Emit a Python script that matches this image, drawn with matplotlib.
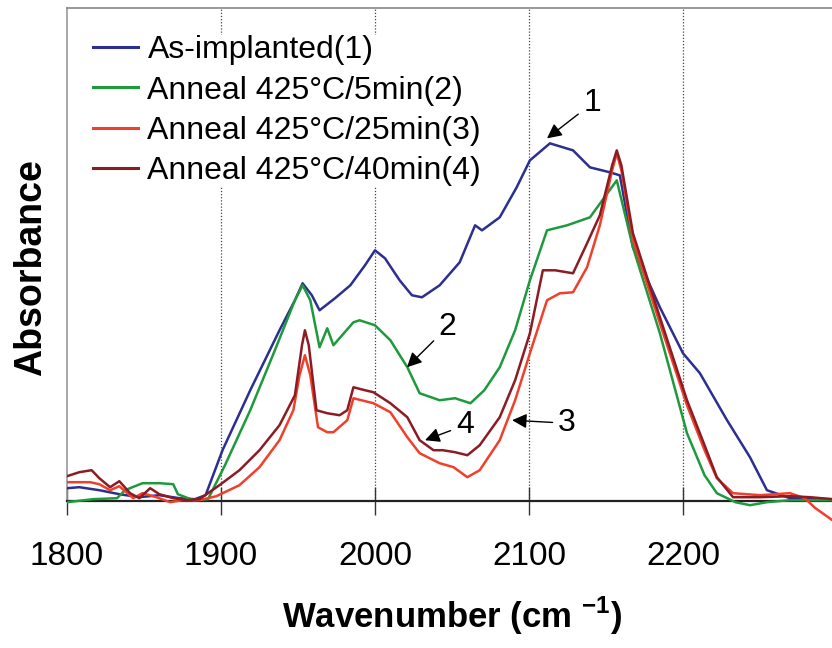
import matplotlib
matplotlib.use("Agg")
import matplotlib.pyplot as plt

plt.rcParams['font.family'] = ['Liberation Sans', 'DejaVu Sans']
plt.rcParams['mathtext.fontset'] = 'custom'
plt.rcParams['mathtext.rm'] = 'Liberation Sans'
plt.rcParams['mathtext.bf'] = 'Liberation Sans:bold'

# ---------------- data ----------------
blue_x = [1800, 1808, 1821, 1834, 1847, 1860, 1873, 1883, 1890, 1901, 1919, 1938, 1948, 1953,
          1959, 1964, 1974, 1984, 1993.5, 2000, 2006.5, 2016, 2024, 2030.5, 2042, 2055, 2065,
          2069.5, 2081, 2092, 2100.6, 2113.6, 2128.6, 2139.6, 2152.6, 2159, 2167.5, 2185, 2200,
          2211, 2228.6, 2243.5, 2254.5, 2269.5, 2297]
blue_y = [0.13, 0.14, 0.11, 0.07, 0.04, 0.06, 0.03, 0.02, 0.06, 0.51, 1.11, 1.71, 2.01, 2.18,
          2.06, 1.91, 2.03, 2.16, 2.36, 2.51, 2.43, 2.21, 2.06, 2.04, 2.16, 2.39, 2.76,
          2.71, 2.84, 3.14, 3.41, 3.58, 3.51, 3.34, 3.29, 3.26, 2.54, 1.94, 1.48,
          1.28, 0.81, 0.44, 0.11, 0.03, 0.02]

green_x = [1800, 1817, 1832.5, 1837.7, 1849, 1860, 1869, 1872, 1882, 1891.6, 1902.6, 1919, 1935,
           1948, 1953, 1958, 1964, 1969, 1973, 1986, 1990, 2000, 2010, 2021, 2029, 2042, 2052,
           2062, 2071, 2081, 2091, 2100.6, 2111.7, 2124.7, 2139.6, 2157, 2167.5, 2185, 2202.6,
           2214, 2222, 2234, 2243.5, 2254.5, 2269.5, 2297]
green_y = [-0.01, 0.02, 0.03, 0.11, 0.18, 0.18, 0.17, 0.07, 0.01, 0.02, 0.36, 0.91, 1.51,
           2.01, 2.16, 2.01, 1.54, 1.73, 1.56, 1.79, 1.81, 1.76, 1.61, 1.34, 1.08, 1.01, 1.03,
           0.98, 1.11, 1.34, 1.71, 2.21, 2.71, 2.76, 2.84, 3.21, 2.54, 1.68, 0.68,
           0.26, 0.08, -0.01, -0.04, -0.01, 0.01, 0.01]

red_x = [1800, 1808, 1815, 1821, 1828, 1834, 1843, 1849, 1858, 1867, 1875, 1886, 1897, 1912,
         1925, 1938, 1947, 1951, 1954.5, 1958, 1963, 1969, 1973, 1982, 1986, 1999, 2010, 2021,
         2029, 2042, 2051, 2060, 2068, 2081, 2091, 2100.6, 2111.7, 2120, 2128.6, 2137.7, 2146,
         2154, 2157, 2160, 2167.5, 2185, 2202.6, 2214, 2222, 2232.5, 2250, 2269.5, 2279, 2286, 2297]
red_y = [0.19, 0.19, 0.19, 0.17, 0.11, 0.15, 0.03, 0.08, 0.04, -0.01, 0.01, 0.01, 0.05, 0.16,
         0.34, 0.61, 0.91, 1.26, 1.46, 1.26, 0.74, 0.69, 0.69, 0.81, 1.03, 0.98, 0.89, 0.64,
         0.48, 0.38, 0.34, 0.24, 0.31, 0.61, 1.01, 1.48, 2.01, 2.08, 2.09, 2.34, 2.76,
         3.31, 3.48, 3.31, 2.61, 1.78, 0.96, 0.51, 0.23, 0.08, 0.06, 0.08, 0.03, -0.07, -0.19]

brown_x = [1800, 1808, 1816, 1821, 1828, 1834, 1841, 1847, 1854, 1860, 1869, 1878, 1886, 1899,
           1912, 1925, 1938, 1948, 1952.6, 1954.5, 1957, 1962, 1969, 1977, 1982, 1986, 1993.5,
           1999, 2010, 2021, 2029, 2038, 2044, 2052, 2060, 2068, 2081, 2091, 2100.6, 2109, 2117,
           2128.6, 2137.7, 2146, 2154, 2157, 2160, 2167.5, 2185, 2202.6, 2214, 2222, 2232.5,
           2250, 2269.5, 2282.5, 2297]
brown_y = [0.25, 0.29, 0.31, 0.23, 0.14, 0.20, 0.08, 0.03, 0.13, 0.07, 0.03, 0.01, 0.02, 0.16,
           0.31, 0.51, 0.76, 1.06, 1.56, 1.71, 1.56, 0.91, 0.88, 0.86, 0.91, 1.14, 1.11,
           1.09, 0.98, 0.84, 0.61, 0.51, 0.51, 0.49, 0.46, 0.56, 0.84, 1.21, 1.68, 2.31, 2.31,
           2.28, 2.58, 2.86, 3.36, 3.51, 3.36, 2.68, 1.84, 1.01, 0.56, 0.24, 0.04,
           0.04, 0.05, 0.04, 0.02]

labels = ["As-implanted(1)", "Anneal 425\u00b0C/5min(2)",
          "Anneal 425\u00b0C/25min(3)", "Anneal 425\u00b0C/40min(4)"]
colors = ["#2b2f8f", "#1e9a3c", "#f0402c", "#8c1c24"]

x_ticks = [1800, 1900, 2000, 2100, 2200]
grid_ticks = [1900, 2000, 2100, 2200]

# annotations: (label, text_x, text_y, head_x, head_y)
ann_labels = ["1", "2", "4", "3"]
ann_text_x = [2141, 2047, 2058.4, 2124.7]
ann_text_y = [3.98, 1.74, 0.76, 0.78]
ann_head_x = [2111.7, 2020.8, 2032.5, 2089]
ann_head_y = [3.63, 1.34, 0.61, 0.81]

# ---------------- figure ----------------
fig = plt.figure(figsize=(8.32, 6.48), dpi=100)
ax = fig.add_axes([0.0805, 0.188, 0.9255, 0.799])

ymax = 4.93
ax.set_xlim(1800, 2300)
ax.set_ylim(-0.25, ymax)

ax.vlines(grid_ticks, 0, ymax, colors="#444444", linestyles=(0, (1, 1.5)), lw=0.9, zorder=1)

series = [(blue_x, blue_y), (green_x, green_y), (red_x, red_y), (brown_x, brown_y)]
for (sx, sy), c, lab in zip(series, colors, labels):
    ax.plot(sx, sy, color=c, lw=1.8, label=lab, zorder=3)

for lab, tx, ty, hx, hy in zip(ann_labels, ann_text_x, ann_text_y, ann_head_x, ann_head_y):
    ax.annotate(lab, xy=(hx, hy), xytext=(tx, ty), ha="center", va="center",
                fontsize=23, color="black",
                arrowprops=dict(arrowstyle="-|>", color="black", lw=1.0,
                                mutation_scale=22, shrinkA=2, shrinkB=0),
                zorder=5)

# spines
ax.spines["right"].set_visible(False)
ax.spines["top"].set_color("#888888")
ax.spines["top"].set_linewidth(1.2)
ax.spines["left"].set_color("#999999")
ax.spines["left"].set_linewidth(1.2)
ax.spines["left"].set_bounds(0, ymax)
ax.spines["bottom"].set_position(("data", 0))
ax.spines["bottom"].set_color("#222222")
ax.spines["bottom"].set_linewidth(1.6)

ax.set_xticks(x_ticks)
ax.set_xticklabels([str(t) for t in x_ticks])
ax.tick_params(axis="x", direction="inout", length=20, width=1.0, color="#333333",
               labelsize=24, pad=19)
ax.set_yticks([])

ax.set_xlabel("Wavenumber (cm $^{\\mathbf{-1}}$)", fontsize=25, fontweight="bold", labelpad=16)
ax.set_ylabel("Absorbance", fontsize=27, fontweight="bold", labelpad=13)

leg = ax.legend(loc="upper left", bbox_to_anchor=(0.034, 0.948), fontsize=23,
                handlelength=1.4, handletextpad=0.3, labelspacing=0.32,
                borderpad=0.0, borderaxespad=0.0, frameon=True, fancybox=False)
leg.get_frame().set_facecolor("white")
leg.get_frame().set_edgecolor("none")
leg.get_frame().set_alpha(1)
leg.set_zorder(4)
for h in leg.get_lines():
    h.set_linewidth(2.2)

fig.savefig("out.png", dpi=100)
